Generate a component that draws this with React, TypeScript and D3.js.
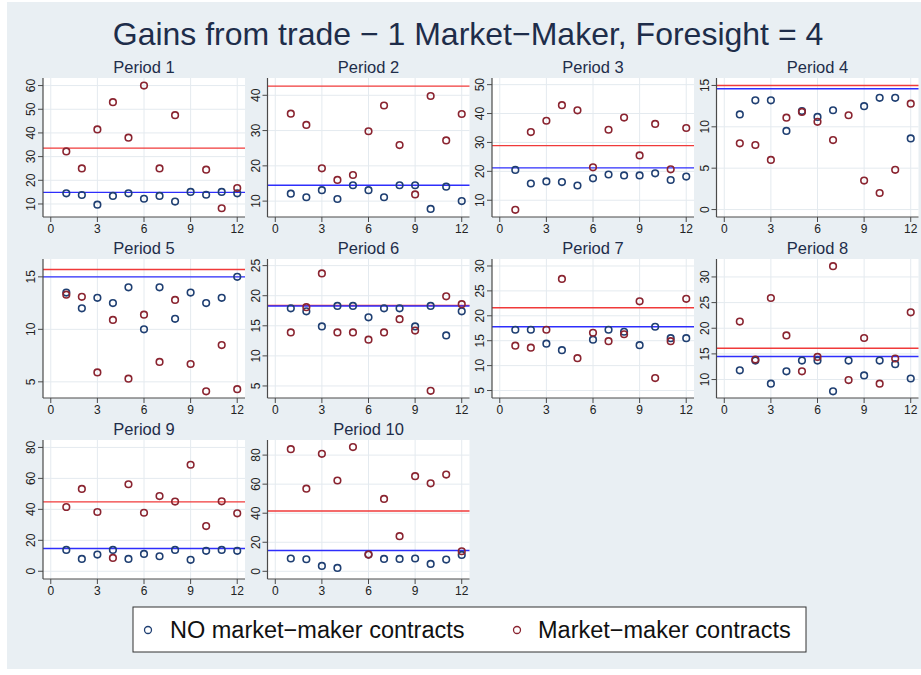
import React from "react";
import * as d3 from "d3";

const W = 921;
const H = 675;

const periods = ["Period 1","Period 2","Period 3","Period 4","Period 5","Period 6","Period 7","Period 8","Period 9","Period 10"];
const xValues = [1,2,3,4,5,6,7,8,9,10,11,12];
const xTicks = [0,3,6,9,12];

type V = number | null;

const noMM: V[][] = [
  [14.5,13.8,9.7,13.4,14.5,12.2,13.4,11.0,15.1,13.9,15.1,14.5],
  [12.1,11.1,13.1,10.6,14.5,13.1,11.1,14.5,14.5,7.8,14.1,10.0],
  [20.5,15.8,16.5,16.3,15.1,17.6,18.9,18.6,18.6,19.3,17.0,18.2],
  [11.5,13.2,13.2,9.5,11.9,11.2,12.0,null,12.5,13.5,13.5,8.6],
  [13.5,12.0,13.0,12.5,14.0,10.0,14.0,11.0,13.5,12.5,13.0,15.0],
  [17.9,17.4,14.9,18.3,18.3,16.4,17.9,17.9,14.9,18.3,13.4,17.4],
  [17.2,17.2,14.4,13.1,null,15.2,17.2,16.8,14.1,17.8,15.5,15.5],
  [11.8,13.7,9.2,11.6,13.7,13.7,7.7,13.7,10.8,13.7,13.0,10.2],
  [13.8,8.0,10.8,13.8,8.0,11.2,9.7,13.8,7.4,13.2,13.8,13.2],
  [8.8,8.3,3.7,2.3,null,11.5,8.5,8.5,8.8,5.1,8.1,11.3],
];

const withMM: V[][] = [
  [32.2,25.0,41.5,53.0,38.0,60.0,25.0,47.5,null,24.5,8.2,16.7],
  [34.8,31.6,19.3,16.0,17.4,29.8,37.1,25.9,11.9,39.8,27.2,34.7],
  [6.7,33.6,37.5,42.9,41.1,21.4,34.4,38.6,25.5,36.4,20.7,35.0],
  [8.0,7.8,6.0,11.1,11.8,10.6,8.4,11.4,3.5,2.0,4.8,12.8],
  [13.3,13.1,5.9,10.9,5.3,11.4,6.9,12.8,6.7,4.1,8.5,4.3],
  [13.9,18.1,23.7,13.9,13.9,12.7,13.9,16.1,14.2,4.2,19.9,18.6],
  [14.0,13.6,17.2,27.4,11.5,16.6,14.9,16.3,22.9,7.5,14.9,23.4],
  [21.3,13.9,25.9,18.6,11.6,14.4,32.1,9.9,18.1,9.2,14.1,23.1],
  [41.5,53.2,38.3,8.6,56.2,37.8,48.6,45.0,68.8,29.2,45.2,37.4],
  [84.1,56.9,80.9,62.5,85.5,11.5,49.8,24.2,65.5,60.6,66.6,13.8],
];

const noMMMean = [14.9,14.5,21.2,14.6,15.0,18.3,17.8,14.5,14.7,14.3];
const withMMMean = [33.6,42.6,28.9,15.0,15.7,18.4,21.6,16.1,44.8,41.5];

const yTicks: number[][] = [
  [10,20,30,40,50,60],
  [10,20,30,40],
  [10,20,30,40,50],
  [0,5,10,15],
  [5,10,15],
  [5,10,15,20,25],
  [5,10,15,20,25,30],
  [10,15,20,25,30],
  [0,20,40,60,80],
  [0,20,40,60,80],
];

const yDomains: [number, number][] = [
  [4.5,63.2],[5.5,44.9],[4.2,52.3],[-0.9,15.9],[3.46,16.7],
  [3.0,26.1],[3.5,31.4],[6.4,33.5],[-5,84.8],[-5.3,90.4],
];

const legendLabels = ["NO market\u2212maker contracts", "Market\u2212maker contracts"];
const titleText = "Gains from trade \u2212 1 Market\u2212Maker, Foresight = 4";

const BLUE_M = "#1f3f72";
const RED_M = "#8a2430";
const BLUE_L = "#2e2efc";
const RED_L = "#f03a3a";
const FONT = "'Liberation Sans', Arial, Helvetica, sans-serif";
const TXT = "#1e2d4a";

function Panel({ i }: { i: number }) {
  const col = i % 4;
  const row = Math.floor(i / 4);
  const left = 43 + col * 224.5;
  const top = 78 + row * 181;
  const pw = 202;
  const ph = 139;
  const x = d3.scaleLinear().domain([-0.5, 12.5]).range([left, left + pw]);
  const y = d3.scaleLinear().domain(yDomains[i]).range([top + ph, top]);
  const grid = "#e4eaef";
  return (
    <g>
      <rect x={left} y={top} width={pw} height={ph} fill="#ffffff" />
      {xTicks.map((t) => (
        <line key={"gx" + t} x1={x(t)} x2={x(t)} y1={top} y2={top + ph} stroke={grid} strokeWidth={1} />
      ))}
      {yTicks[i].map((t) => (
        <line key={"gy" + t} x1={left} x2={left + pw} y1={y(t)} y2={y(t)} stroke={grid} strokeWidth={1} />
      ))}
      <line x1={left} x2={left + pw} y1={y(withMMMean[i])} y2={y(withMMMean[i])} stroke={RED_L} strokeWidth={1.4} />
      <line x1={left} x2={left + pw} y1={y(noMMMean[i])} y2={y(noMMMean[i])} stroke={BLUE_L} strokeWidth={1.4} />
      {noMM[i].map((v, k) =>
        v == null ? null : (
          <circle key={"b" + k} cx={x(xValues[k])} cy={y(v)} r={3.3} fill="none" stroke={BLUE_M} strokeWidth={1.6} />
        )
      )}
      {withMM[i].map((v, k) =>
        v == null ? null : (
          <circle key={"r" + k} cx={x(xValues[k])} cy={y(v)} r={3.3} fill="none" stroke={RED_M} strokeWidth={1.6} />
        )
      )}
      <line x1={left} x2={left} y1={top} y2={top + ph} stroke="#4a4a4a" strokeWidth={1.2} />
      <line x1={left} x2={left + pw} y1={top + ph} y2={top + ph} stroke="#4a4a4a" strokeWidth={1.2} />
      {yTicks[i].map((t) => (
        <g key={"ty" + t}>
          <line x1={left - 5} x2={left} y1={y(t)} y2={y(t)} stroke="#4a4a4a" strokeWidth={1} />
          <text
            transform={`translate(${left - 8},${y(t)}) rotate(-90)`}
            textAnchor="middle"
            fontSize={12}
            fontFamily={FONT}
            fill="#222"
          >
            {t}
          </text>
        </g>
      ))}
      {xTicks.map((t) => (
        <g key={"tx" + t}>
          <line x1={x(t)} x2={x(t)} y1={top + ph} y2={top + ph + 5} stroke="#4a4a4a" strokeWidth={1} />
          <text x={x(t)} y={top + ph + 16} textAnchor="middle" fontSize={12} fontFamily={FONT} fill="#222">
            {t}
          </text>
        </g>
      ))}
      <text x={left + pw / 2} y={top - 5} textAnchor="middle" fontSize={16.5} fontFamily={FONT} fill={TXT}>
        {periods[i]}
      </text>
    </g>
  );
}

export default function App() {
  return (
    <svg width={W} height={H} style={{ position: "absolute", left: 0, top: 0 }} xmlns="http://www.w3.org/2000/svg">
      <rect x={0} y={0} width={W} height={H} fill="#ffffff" />
      <rect x={7} y={2} width={W - 7} height={667} fill="#e9eff3" />
      <text x={468} y={45} textAnchor="middle" fontSize={32} fontFamily={FONT} fill={TXT}>
        {titleText}
      </text>
      {periods.map((_, i) => (
        <Panel key={i} i={i} />
      ))}
      <rect x={133} y={607} width={673} height={45} fill="#ffffff" stroke="#333" strokeWidth={1} />
      <circle cx={148} cy={630} r={3.5} fill="none" stroke={BLUE_M} strokeWidth={1.3} />
      <text x={170} y={638} fontSize={23.5} fontFamily={FONT} fill="#111">{legendLabels[0]}</text>
      <circle cx={517} cy={630} r={3.5} fill="none" stroke={RED_M} strokeWidth={1.3} />
      <text x={538} y={638} fontSize={23.5} fontFamily={FONT} fill="#111">{legendLabels[1]}</text>
    </svg>
  );
}
